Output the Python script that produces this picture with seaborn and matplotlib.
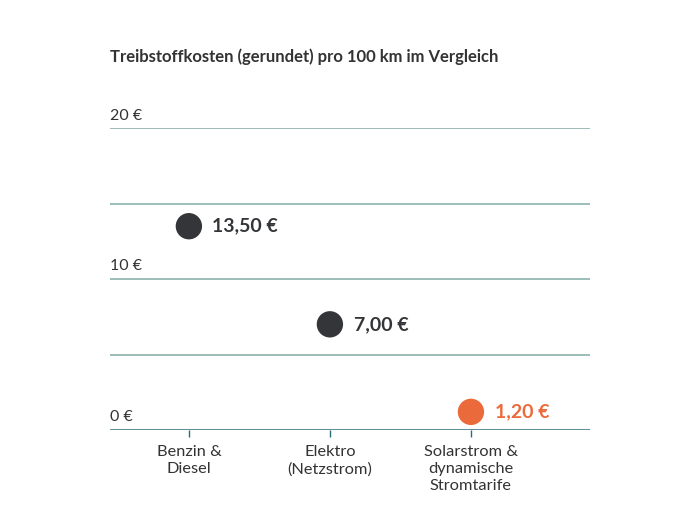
import pandas as pd
import seaborn as sns
import matplotlib.pyplot as plt

# data
categories = ["Benzin &\nDiesel", "Elektro\n(Netzstrom)", "Solarstrom &\ndynamische\nStromtarife"]
costs = [13.50, 7.00, 1.20]
labels = ["13,50 €", "7,00 €", "1,20 €"]
highlight = ["normal", "normal", "highlight"]

df = pd.DataFrame({"Kategorie": categories, "Kosten": costs, "Label": labels, "Typ": highlight})

sns.set_theme(style="white")
plt.rcParams["font.family"] = ["Lato", "DejaVu Sans"]

text_col = "#333333"
palette = {"normal": "#333538", "highlight": "#eb6a3b"}

fig = plt.figure(figsize=(7, 5.25), dpi=100)
ax = fig.add_axes([0.157, 0.181, 0.686, 0.575])

sns.scatterplot(data=df, x="Kategorie", y="Kosten", hue="Typ", palette=palette,
                s=360, edgecolor="none", legend=False, ax=ax, zorder=3, clip_on=False)

ax.set_xlim(-0.56, 2.845)
ax.set_ylim(0, 20)

# horizontal grid lines
for v in [5, 10, 15, 20]:
    ax.axhline(v, color="#8bb3ab", lw=1.2, zorder=1)
ax.axhline(0, color="#2b6c78", lw=1.8, zorder=2)

# value labels next to the points
for i, row in df.iterrows():
    ax.annotate(row["Label"], (i, row["Kosten"]), xytext=(17, 0), textcoords="offset points",
                va="center", ha="left", fontsize=14, fontweight="bold",
                color=palette[row["Typ"]])

# y labels sitting above the grid lines
for v in [0, 10, 20]:
    ax.annotate(f"{v} €", (0, v), xycoords=("axes fraction", "data"), xytext=(0, 4),
                textcoords="offset points", ha="left", va="bottom", fontsize=11.5, color=text_col)
ax.set_yticks([])

ax.set_xticks(range(len(categories)))
ax.set_xticklabels(categories, fontsize=11.8, color=text_col, linespacing=1.25)
ax.tick_params(axis="x", length=5, width=1, color="#2b6c78", pad=6, bottom=True)
ax.set_xlabel("")
ax.set_ylabel("")

for s in ax.spines.values():
    s.set_visible(False)

fig.text(0.157, 0.881, "Treibstoffkosten (gerundet) pro 100 km im Vergleich",
         fontsize=12, fontweight="bold", color=text_col, ha="left", va="baseline")

fig.savefig("out.png", dpi=100, facecolor="white")
